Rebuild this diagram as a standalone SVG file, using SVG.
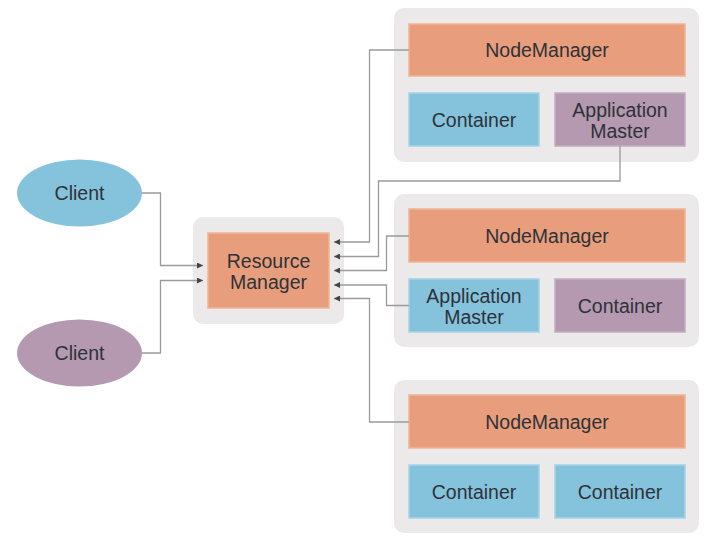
<svg xmlns="http://www.w3.org/2000/svg" width="710" height="543" viewBox="0 0 710 543">
<style>
.panel{fill:#ebe9ea}
.or{fill:#e89e7c;stroke:#f0b497;stroke-width:1.5}
.bl{fill:#85c3dd;stroke:#a4d3e6;stroke-width:1.5}
.pu{fill:#b499b0;stroke:#c3adc0;stroke-width:1.5}
text{font-family:"Liberation Sans",Arial,sans-serif;font-size:19.5px;fill:#2e3238;text-anchor:middle}
.ln{fill:none;stroke:#9a9a9a;stroke-width:1.3}
</style>
<defs>
<marker id="ar" viewBox="0 0 6 6" refX="6" refY="3" markerWidth="6" markerHeight="6" markerUnits="userSpaceOnUse" orient="auto">
<path d="M0,0 L6,3 L0,6 Z" fill="#444"/>
</marker>
</defs>
<g id="client1">
<ellipse cx="79.5" cy="193" rx="62.5" ry="33.5" fill="#85c3dd"/>
<text x="79.5" y="200">Client</text>
</g>
<g id="client2">
<ellipse cx="79.5" cy="353" rx="62.5" ry="33.5" fill="#b499b0"/>
<text x="79.5" y="360">Client</text>
</g>
<g id="resourcemanager">
<rect class="panel" x="193" y="217" width="151" height="107" rx="10"/>
<rect class="or" x="208" y="233" width="121" height="75"/>
<text x="268.5" y="267.5">Resource</text>
<text x="268.5" y="288.5">Manager</text>
</g>
<g id="node1">
<rect class="panel" x="394" y="8" width="305" height="154" rx="10"/>
<rect class="or" x="409" y="24" width="276" height="52"/>
<text x="547" y="57">NodeManager</text>
<rect class="bl" x="409" y="93" width="130" height="53"/>
<text x="474" y="126.5">Container</text>
<rect class="pu" x="555" y="93" width="130" height="53"/>
<text x="620" y="116.5">Application</text>
<text x="620" y="137.5">Master</text>
</g>
<g id="node2">
<rect class="panel" x="394" y="194" width="305" height="153" rx="10"/>
<rect class="or" x="409" y="209" width="276" height="53"/>
<text x="547" y="242.5">NodeManager</text>
<rect class="bl" x="409" y="279" width="130" height="53"/>
<text x="474" y="302.5">Application</text>
<text x="474" y="323.5">Master</text>
<rect class="pu" x="555" y="279" width="130" height="53"/>
<text x="620" y="312.5">Container</text>
</g>
<g id="node3">
<rect class="panel" x="394" y="380" width="305" height="153" rx="10"/>
<rect class="or" x="409" y="395" width="276" height="53"/>
<text x="547" y="428.5">NodeManager</text>
<rect class="bl" x="409" y="465" width="130" height="53"/>
<text x="474" y="498.5">Container</text>
<rect class="bl" x="555" y="465" width="130" height="53"/>
<text x="620" y="498.5">Container</text>
</g>
<g id="connectors">
<polyline class="ln" points="142,193 160.5,193 160.5,265.5 203,265.5" marker-end="url(#ar)"/>
<polyline class="ln" points="142,353 160.5,353 160.5,280.5 203,280.5" marker-end="url(#ar)"/>
<polyline class="ln" points="409,50 369.5,50 369.5,242 334,242" marker-end="url(#ar)"/>
<polyline class="ln" points="620,146 620,181 378.5,181 378.5,256.5 334,256.5" marker-end="url(#ar)"/>
<polyline class="ln" points="409,236 386.5,236 386.5,270.5 334,270.5" marker-end="url(#ar)"/>
<polyline class="ln" points="409,305.5 386.5,305.5 386.5,285 334,285" marker-end="url(#ar)"/>
<polyline class="ln" points="409,422 369.5,422 369.5,298.5 334,298.5" marker-end="url(#ar)"/>
</g>
</svg>
